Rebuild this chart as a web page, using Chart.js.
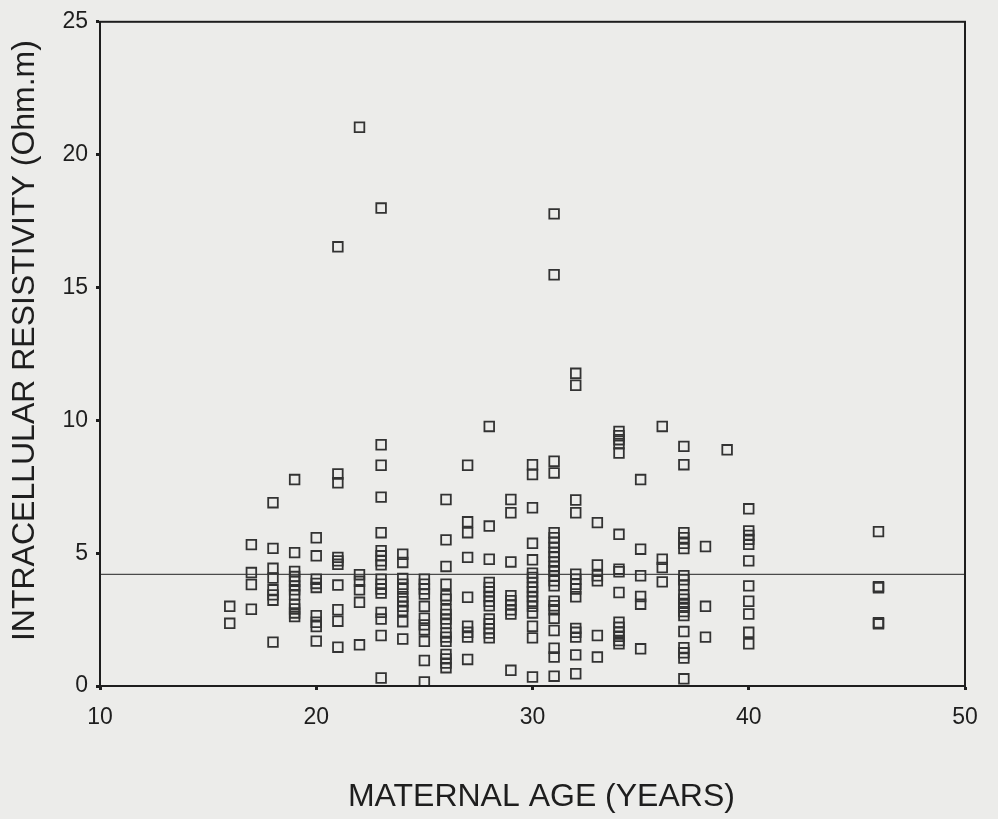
<!DOCTYPE html>
<html>
<head>
<meta charset="utf-8">
<script src="https://cdn.jsdelivr.net/npm/chart.js@4/dist/chart.umd.min.js"></script>
<style>
  html, body { margin: 0; padding: 0; background: #ececea; }
  #wrap { width: 998px; height: 819px; }
</style>
</head>
<body>
<div id="wrap"><canvas id="c" width="998" height="819"></canvas></div>
<script>
// ---- DATA ----
const xTickLabels = [10, 20, 30, 40, 50];
const yTickLabels = [0, 5, 10, 15, 20, 25];
const ages = [16, 17, 18, 19, 20, 21, 22, 23, 24, 25, 26, 27, 28, 29, 30, 31, 32, 33, 34, 35, 36, 37, 38, 39, 40, 46];
const resistivityByAge = [
  [3.0, 2.36],
  [5.32, 4.27, 3.82, 2.89],
  [6.9, 5.18, 4.43, 4.06, 3.62, 3.43, 3.23, 1.65],
  [7.77, 5.02, 4.31, 4.12, 3.94, 3.77, 3.62, 3.44, 3.06, 2.9, 2.75, 2.61],
  [5.58, 4.9, 4.02, 3.86, 3.71, 2.65, 2.4, 2.24, 1.69],
  [16.53, 7.98, 7.65, 4.84, 4.71, 4.58, 3.8, 2.87, 2.44, 1.46],
  [21.03, 4.19, 3.94, 3.62, 3.15, 1.55],
  [17.99, 9.08, 8.31, 7.11, 5.77, 5.09, 4.9, 4.71, 4.56, 4.02, 3.83, 3.65, 3.5, 2.77, 2.52, 1.9, 0.3],
  [4.96, 4.65, 4.05, 3.83, 3.65, 3.36, 3.17, 3.0, 2.84, 2.42, 1.77],
  [4.02, 3.83, 3.65, 3.46, 3.0, 2.55, 2.3, 2.11, 1.68, 0.96, 0.15],
  [7.02, 5.5, 4.5, 3.83, 3.4, 3.27, 2.87, 2.69, 2.52, 2.36, 1.99, 1.84, 1.68, 1.19, 1.02, 0.86, 0.69],
  [8.31, 6.18, 5.77, 4.84, 3.34, 2.25, 2.02, 1.84, 1.0],
  [9.77, 6.02, 4.77, 3.9, 3.71, 3.55, 3.37, 3.19, 3.02, 2.52, 2.34, 2.15, 1.99, 1.81],
  [7.02, 6.52, 4.67, 3.4, 3.21, 3.05, 2.87, 2.71, 0.59],
  [8.33, 7.96, 6.71, 5.37, 4.75, 4.25, 4.09, 3.9, 3.71, 3.55, 3.37, 3.19, 3.0, 2.75, 2.25, 1.81, 0.34],
  [17.77, 15.48, 8.46, 8.02, 5.77, 5.58, 5.4, 5.21, 5.02, 4.87, 4.67, 4.5, 4.34, 4.15, 3.96, 3.77, 3.19, 3.02, 2.87, 2.55, 2.09, 1.42, 1.09, 0.37],
  [11.77, 11.32, 7.0, 6.52, 4.21, 4.02, 3.83, 3.65, 3.36, 2.17, 2.02, 1.84, 1.17, 0.46],
  [6.15, 4.56, 4.15, 3.96, 1.9, 1.09],
  [9.58, 9.42, 9.27, 9.12, 8.77, 5.71, 4.4, 4.3, 3.52, 2.4, 2.21, 2.02, 1.87, 1.71, 1.59],
  [7.77, 5.15, 4.15, 3.37, 3.08, 1.4],
  [9.77, 4.77, 4.46, 3.92],
  [9.02, 8.33, 5.77, 5.58, 5.37, 5.17, 4.15, 4.0, 3.8, 3.42, 3.27, 3.11, 2.96, 2.8, 2.65, 2.05, 1.44, 1.25, 1.05, 0.27],
  [5.25, 3.0, 1.84],
  [8.89],
  [6.67, 5.84, 5.67, 5.52, 5.33, 4.71, 3.77, 3.19, 2.71, 2.02, 1.59],
  [5.81, 3.74, 3.7, 2.38, 2.34]
];
const meanLineValue = 4.2;
const xTitle = 'MATERNAL AGE (YEARS)';
const yTitle = 'INTRACELLULAR RESISTIVITY (Ohm.m)';

// ---- build points ----
const points = [];
ages.forEach((a, i) => resistivityByAge[i].forEach(v => points.push({ x: a, y: v })));
const xMin = xTickLabels[0], xMax = xTickLabels[xTickLabels.length - 1];
const yMin = yTickLabels[0], yMax = yTickLabels[yTickLabels.length - 1];

const INK = '#1e1e1e';
const FONT = 'Liberation Sans, Arial, sans-serif';
const bgPlugin = {
  id: 'bg',
  beforeDraw(chart) {
    const ctx = chart.ctx;
    ctx.save();
    ctx.fillStyle = '#ececea';
    ctx.fillRect(0, 0, chart.width, chart.height);
    ctx.restore();
  },
  afterDraw(chart) {
    const { ctx, chartArea: a } = chart;
    ctx.save();
    ctx.strokeStyle = INK;
    ctx.lineWidth = 2;
    ctx.strokeRect(a.left, a.top, a.right - a.left, a.bottom - a.top);
    ctx.restore();
  }
};

new Chart(document.getElementById('c'), {
  type: 'scatter',
  data: {
    datasets: [
      {
        data: points,
        pointStyle: 'rect',
        pointRadius: 6.8,
        pointBorderWidth: 1.8,
        pointBorderColor: '#333',
        pointBackgroundColor: 'rgba(0,0,0,0)',
        showLine: false
      },
      {
        type: 'line',
        data: [{ x: xMin, y: meanLineValue }, { x: xMax, y: meanLineValue }],
        borderColor: '#4a4a4a',
        borderWidth: 1.4,
        pointRadius: 0,
        fill: false
      }
    ]
  },
  options: {
    responsive: false,
    devicePixelRatio: 1,
    animation: false,
    events: [],
    layout: { padding: { left: 0, right: 33, top: 18, bottom: 0 } },
    plugins: { legend: { display: false }, tooltip: { enabled: false } },
    scales: {
      x: {
        type: 'linear',
        min: xMin, max: xMax,
        afterFit(s) { s.height = 133; },
        afterBuildTicks(s) { s.ticks = xTickLabels.map(v => ({ value: v })); },
        grid: { drawOnChartArea: false, drawTicks: true, tickLength: 4, tickWidth: 3, tickColor: INK },
        border: { display: true, color: INK, width: 2 },
        ticks: { color: INK, padding: 14, font: { family: FONT, size: 23 } },
        title: { display: true, text: '\u00a0\u00a0' + xTitle, color: INK, padding: { top: 0, bottom: 3 },
          font: { family: FONT, size: 32 } }
      },
      y: {
        type: 'linear',
        min: yMin, max: yMax,
        afterFit(s) { s.width = 100; },
        afterBuildTicks(s) { s.ticks = yTickLabels.map(v => ({ value: v })); },
        grid: { drawOnChartArea: false, drawTicks: true, tickLength: 4, tickWidth: 3, tickColor: INK },
        border: { display: true, color: INK, width: 2 },
        ticks: { color: INK, padding: 8, font: { family: FONT, size: 23 } },
        title: { display: true, text: '\u00a0\u00a0\u00a0' + yTitle, color: INK, padding: { top: 6, bottom: 0 },
          font: { family: FONT, size: 32 } }
      }
    }
  },
  plugins: [bgPlugin]
});
</script>
</body>
</html>
